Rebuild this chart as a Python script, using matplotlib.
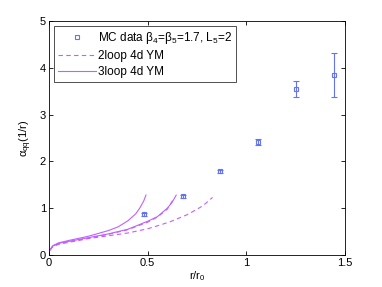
import matplotlib
matplotlib.use("Agg")
import matplotlib.pyplot as plt

# MC data
mc_x = [0.484, 0.677, 0.868, 1.059, 1.254, 1.445]
mc_y = [0.87, 1.25, 1.79, 2.41, 3.55, 3.85]
mc_err_lo = [0.03, 0.03, 0.03, 0.06, 0.17, 0.47]
mc_err_hi = [0.03, 0.03, 0.03, 0.06, 0.16, 0.47]

# 3loop curves (two scales)
l3a_x = [0.005, 0.02, 0.05, 0.1, 0.2, 0.3, 0.35, 0.4, 0.44, 0.46, 0.48, 0.492]
l3a_y = [0.107, 0.20, 0.26, 0.31, 0.40, 0.52, 0.60, 0.73, 0.88, 1.00, 1.15, 1.28]
l3b_x = [0.005, 0.02, 0.05, 0.1, 0.2, 0.3, 0.4, 0.5, 0.55, 0.6, 0.625, 0.645]
l3b_y = [0.105, 0.19, 0.25, 0.29, 0.37, 0.45, 0.55, 0.72, 0.82, 1.00, 1.13, 1.28]

# 2loop curves (two scales)
l2a_x = [0.005, 0.02, 0.05, 0.1, 0.2, 0.3, 0.4, 0.5, 0.55, 0.6, 0.635]
l2a_y = [0.105, 0.185, 0.24, 0.285, 0.36, 0.44, 0.54, 0.70, 0.81, 0.98, 1.22]
l2b_x = [0.005, 0.02, 0.05, 0.1, 0.2, 0.3, 0.4, 0.5, 0.563, 0.614, 0.7, 0.73, 0.78, 0.829]
l2b_y = [0.103, 0.18, 0.23, 0.27, 0.35, 0.41, 0.47, 0.56, 0.64, 0.71, 0.86, 0.93, 1.05, 1.23]

line_col = "#c060ff"
mark_col = "#6474f0"

plt.rcParams["font.family"] = ["Liberation Sans", "DejaVu Sans"]
plt.rcParams["font.size"] = 8
plt.rcParams["mathtext.fontset"] = "custom"
plt.rcParams["mathtext.rm"] = "Liberation Sans"
plt.rcParams["mathtext.it"] = "Liberation Sans"

fig = plt.figure(figsize=(3.82, 2.87), dpi=100)
ax = fig.add_axes([0.128, 0.1115, 0.775, 0.8155])

h_mc = ax.errorbar(mc_x, mc_y, yerr=[mc_err_lo, mc_err_hi], fmt="s", ms=3.5,
                   mfc="none", mec=mark_col, ecolor=mark_col, elinewidth=0.8,
                   capsize=2.5, capthick=0.8, mew=0.8)
h_2, = ax.plot(l2a_x, l2a_y, "--", color=line_col, lw=0.8, dashes=(4, 3))
ax.plot(l2b_x, l2b_y, "--", color=line_col, lw=0.8, dashes=(4, 3))
h_3, = ax.plot(l3a_x, l3a_y, "-", color=line_col, lw=0.8)
ax.plot(l3b_x, l3b_y, "-", color=line_col, lw=0.8)

ax.set_xlim(0, 1.5)
ax.set_ylim(0, 5)
ax.set_xticks([0, 0.5, 1, 1.5])
ax.set_xticklabels(["0", "0.5", "1", "1.5"])
ax.set_yticks([0, 1, 2, 3, 4, 5])
ax.tick_params(direction="in", top=True, right=True, length=3, width=0.6,
               labelsize=8, pad=2)
for s in ax.spines.values():
    s.set_linewidth(0.6)

ax.set_xlabel("r/r$_0$", fontsize=8, labelpad=1)
ax.set_ylabel("α$_{qq}$(1/r)", fontsize=8, labelpad=4)

leg = ax.legend([h_mc[0], h_2, h_3],
                ["MC data β$_4$=β$_5$=1.7, L$_5$=2", "2loop 4d YM", "3loop 4d YM"],
                loc="upper left", fontsize=8.5, frameon=True, fancybox=False,
                edgecolor="black", borderpad=0.35, labelspacing=0.35,
                handlelength=3.2, handletextpad=0.2, borderaxespad=0.4)
leg.get_frame().set_linewidth(0.6)

fig.savefig("out.png", dpi=100)
